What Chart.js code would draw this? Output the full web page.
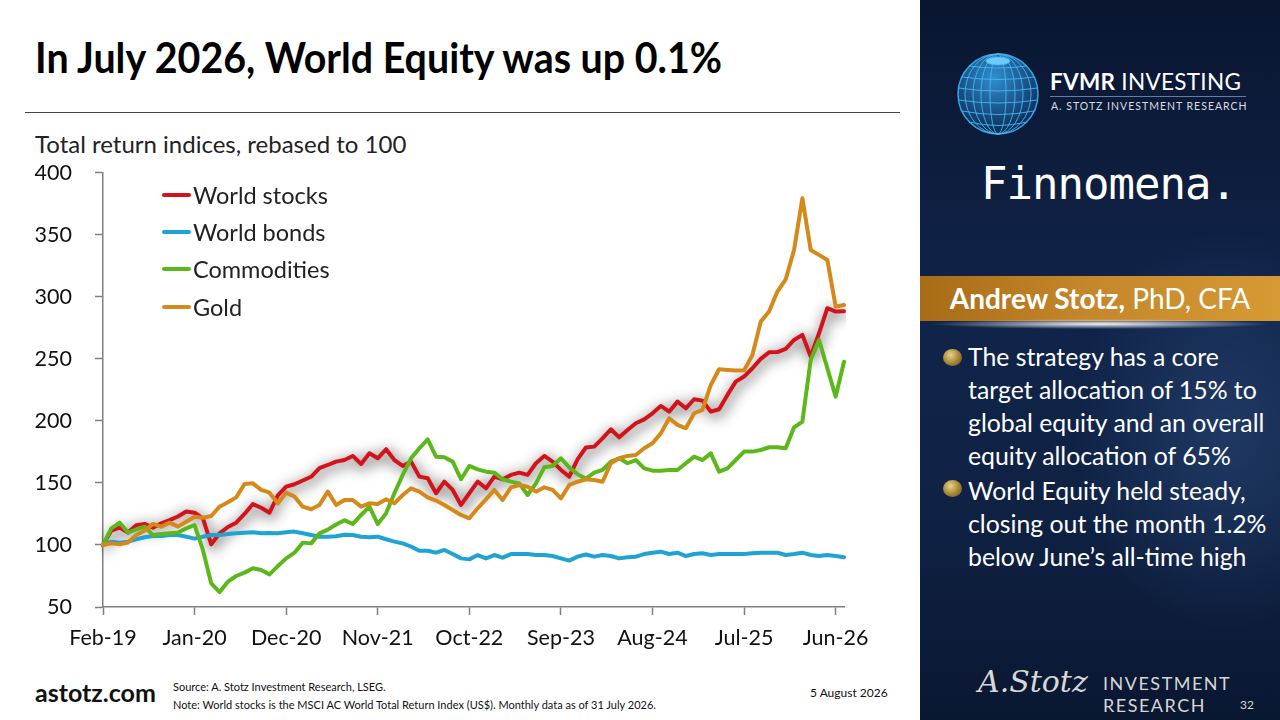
<!DOCTYPE html>
<html>
<head>
<meta charset="utf-8">
<script src="https://cdn.jsdelivr.net/npm/chart.js@4.4.1/dist/chart.umd.min.js"></script>
<style>
  html, body { margin: 0; padding: 0; }
  body { width: 1280px; height: 720px; position: relative; overflow: hidden; background: #fff; font-family: Lato, "Open Sans", sans-serif; }
  .abs { position: absolute; white-space: nowrap; }
  #title { left: 35px; top: 32px; font-size: 42px; font-weight: 700; color: #000; transform-origin: 0 0; line-height: 50px; }
  #rule { left: 25px; top: 112px; width: 875px; height: 1px; background: #444; }
  #ytitle { left: 35px; top: 129px; font-size: 24px; color: #222; }
  #chartBox { left: 0; top: 137px; width: 900px; height: 523px; }
  #legend { left: 162px; top: 176px; font-size: 23.5px; color: #222; }
  #legend div { height: 37.3px; display: flex; align-items: center; }
  #legend span.ln { display: inline-block; width: 29px; height: 4px; margin-right: 2px; border-radius: 2px; }
  #panel { left: 920px; top: 0; width: 360px; height: 720px;
    background: radial-gradient(ellipse 60% 40% at 85% 60%, rgba(45,75,125,0.55), rgba(0,0,0,0) 70%),
                linear-gradient(180deg, #0a1630 0%, #10244a 45%, #0f2244 70%, #0a1731 100%); }
  #banner { left: 920px; top: 276px; width: 360px; height: 45px;
    background: linear-gradient(90deg, #a86c17 0%, #c4862a 45%, #d69a34 100%);
    color: #fff; font-size: 28px; text-align: center; line-height: 45px; }
  #glow { left: 930px; top: 319px; width: 340px; height: 10px;
    background: radial-gradient(ellipse 50% 50% at 50% 50%, rgba(255,255,255,0.95), rgba(255,255,255,0) 100%); }
  .bullet { left: 968px; color: #fff; font-size: 24.8px; line-height: 33px; }
  .dot { width: 19px; height: 17px; border-radius: 50%;
    background: radial-gradient(circle at 40% 35%, #e9d38c 0%, #b1913f 45%, #5d4a1c 100%); }
  #fvmr { left: 1050px; top: 68px; color: #fff; font-size: 22.5px; letter-spacing: 0.3px; }
  #fvmrLine { left: 1050px; top: 96px; width: 196px; height: 1px; background: #5d7fa8; }
  #fvmrSub { left: 1051px; top: 100px; color: #d8dde6; font-size: 10.5px; letter-spacing: 1.0px; }
  #finn { left: 981px; top: 158px; color: #fff; font-size: 44px; font-family: "DejaVu Sans Mono", monospace; letter-spacing: -1px; }
  #sig { left: 978px; top: 664px; color: #d8d8d8; font-size: 30px; font-style: italic; font-family: "DejaVu Serif", serif; }
  #invres { left: 1103px; top: 672px; color: #d6d6d6; font-size: 18px; line-height: 22px; letter-spacing: 1.5px; }
  #page { left: 1240px; top: 697px; color: #d6d6d6; font-size: 12px; }
  #site { left: 35px; top: 677px; font-size: 25px; font-weight: 700; color: #111; }
  #src { left: 173px; top: 678px; font-size: 11px; color: #111; line-height: 18px; }
  #date { left: 810px; top: 685px; font-size: 12px; color: #111; }
</style>
</head>
<body>
<div class="abs" id="title">In July 2026, World Equity was up 0.1%</div>
<div class="abs" id="rule"></div>
<div class="abs" id="ytitle">Total return indices, rebased to 100</div>
<div class="abs" id="chartBox"><canvas id="myChart"></canvas></div>
<div class="abs" id="legend"></div>

<div class="abs" id="panel"></div>
<svg class="abs" style="left:956px;top:52px" width="84" height="84" viewBox="-42 -42 84 84">
  <defs>
    <radialGradient id="gl" cx="45%" cy="30%" r="70%">
      <stop offset="0%" stop-color="#2f8fd0"/>
      <stop offset="100%" stop-color="#0b2a55"/>
    </radialGradient>
  </defs>
  <circle r="40" fill="url(#gl)" stroke="#35a6e8" stroke-width="1.5"/>
  <g fill="none" stroke="#49b4f0" stroke-width="0.9">
    <ellipse rx="8" ry="40"/><ellipse rx="17" ry="40"/><ellipse rx="25" ry="40"/><ellipse rx="33" ry="40"/>
    <ellipse cy="-33" rx="12" ry="4" fill="#6ccaff"/>
    <path d="M-36,-17 Q0,-12 36,-17 M-39.5,-6 Q0,0 39.5,-6 M-39.5,6 Q0,12 39.5,6 M-36,17 Q0,24 36,17 M-29,28 Q0,35 29,28 M-29,-28 Q0,-24 29,-28"/>
  </g>
</svg>
<div class="abs" id="fvmr"><b>FVMR</b> INVESTING</div>
<div class="abs" id="fvmrLine"></div>
<div class="abs" id="fvmrSub">A. STOTZ INVESTMENT RESEARCH</div>
<div class="abs" id="finn">Finnomena.</div>
<div class="abs" id="banner"><b>Andrew Stotz,</b> PhD, CFA</div>
<div class="abs" id="glow"></div>
<div class="abs dot" style="left:943px;top:349px"></div>
<div class="abs bullet" style="top:340px">The strategy has a core<br>target allocation of 15% to<br>global equity and an overall<br>equity allocation of 65%</div>
<div class="abs dot" style="left:943px;top:480px"></div>
<div class="abs bullet" style="top:474px">World Equity held steady,<br>closing out the month 1.2%<br>below June’s all-time high</div>
<div class="abs" id="sig">A.Stotz</div>
<div class="abs" id="invres">INVESTMENT<br>RESEARCH</div>
<div class="abs" id="page">32</div>

<div class="abs" id="site">astotz.com</div>
<div class="abs" id="src">Source: A. Stotz Investment Research, LSEG.<br>Note: World stocks is the MSCI AC World Total Return Index (US$). Monthly data as of 31 July 2026.</div>
<div class="abs" id="date">5 August 2026</div>

<script>
// monthly, Feb-19 .. Jul-26
var monthNames = ["Jan", "Feb", "Mar", "Apr", "May", "Jun", "Jul", "Aug", "Sep", "Oct", "Nov", "Dec"];
var tickLabels = ["Feb-19", "Jan-20", "Dec-20", "Nov-21", "Oct-22", "Sep-23", "Aug-24", "Jul-25", "Jun-26"];
var seriesNames = ["World stocks", "World bonds", "Commodities", "Gold"];
var seriesColors = ["#d4121a", "#1fa3d3", "#5cb71a", "#d4891a"];

var worldStocks = [
  100, 111.6, 114, 110, 116, 117, 114, 117.5, 120, 123,
  127, 126, 121.5, 100.5, 109.4, 114.5, 118, 125, 133, 130,
  126, 140, 147, 149, 152, 155, 162, 164.5, 167.2, 168.5,
  171.8, 165.3, 173.9, 169.9, 177.2, 168.5, 163.7, 167.2, 155.1, 153.8,
  141.7, 151.1, 144.4, 132.3, 141.7, 151.1, 145.7, 155.1, 153, 156.5,
  158.3, 156.5, 165.9, 171.8, 167.2, 160.5, 155.1, 169, 178.6, 179.3,
  186, 193.3, 186.8, 192.7, 198.1, 201.3, 206.2, 212.1, 207.5, 215.6,
  210.2, 217.5, 216.4, 207.5, 209.4, 221, 231.7, 235.8, 242.5, 250,
  255.3, 255.5, 258.2, 265.3, 269.4, 251.9, 270.7, 290.9, 288.2, 288.4
];
var worldBonds = [
  100, 102.7, 101.9, 102.7, 104.6, 106.2, 107.3, 107.3, 108.1, 108.1,
  106.7, 105.1, 106.7, 108.1, 108.1, 108.9, 109.4, 109.9, 110.2, 109.4,
  109.7, 109.4, 110.2, 110.8, 109.4, 108.1, 106.7, 106.7, 107, 108.2,
  108.1, 106.7, 106.2, 106.7, 104.6, 102.7, 101.3, 98.7, 95.4, 95.4,
  93.8, 96, 92.7, 89.2, 88.4, 91.9, 89.2, 91.9, 89.8, 92.7,
  92.7, 92.7, 91.9, 91.9, 91.1, 89.2, 87.4, 90.6, 92.3, 90.6,
  91.9, 91.1, 89.2, 90.1, 90.6, 92.7, 93.8, 94.6, 92.7, 93.8,
  91.1, 92.7, 93.3, 91.9, 92.7, 92.7, 92.7, 92.7, 93.3, 93.8,
  93.8, 93.8, 91.9, 92.7, 93.8, 91.9, 91.1, 91.9, 91.1, 90.1
];
var commodities = [
  100, 113.4, 118, 110, 112.6, 114.8, 108, 108.9, 109.4, 110,
  113.4, 116.1, 96, 69, 62, 70.4, 75, 77.7, 81.2, 79.8,
  76.3, 83, 89.2, 93.8, 101.9, 101.3, 109.4, 112.4, 116.5, 120,
  116.9, 124.2, 130.9, 116.9, 125.5, 141.7, 156.5, 169.9, 178, 185.2,
  171.2, 170.7, 167.2, 153, 163.7, 161, 159.1, 158.3, 153, 151.1,
  149.7, 140.3, 149.7, 162.6, 163.7, 169.9, 162.6, 157, 153.5, 158.3,
  160.5, 167.2, 169.9, 165.9, 168.5, 161.8, 159.9, 159.9, 160.5, 160.5,
  165.9, 171.2, 168.5, 173.9, 159.1, 161.8, 168.5, 175.3, 175.3, 176.6,
  178.8, 178.8, 178, 194.9, 199.5, 249.2, 265.3, 242.5, 219.6, 247.8
];
var gold = [
  100, 101.3, 100.5, 102, 108, 111.6, 117, 114.8, 118, 114.8,
  118.8, 122.8, 122, 123.4, 130.9, 134.4, 138.4, 149.2, 149.7, 144.4,
  142.2, 133.6, 142.2, 139, 130.9, 128.8, 132.3, 143, 132.3, 136.3,
  136.3, 130.9, 133.6, 133.1, 136.8, 133.6, 140.3, 145.7, 143, 138.4,
  135.8, 132.3, 128.2, 124.2, 121.5, 129.6, 136.8, 144.4, 136.3, 146.5,
  148.4, 147, 143, 146.5, 144.4, 137.6, 148.4, 151, 153, 152.4,
  151, 165.9, 169.9, 171.8, 172.6, 178, 182, 190, 202.2, 196.8,
  194.1, 206.2, 208.9, 229, 241.7, 241.1, 240.6, 240.8, 253.2, 280.1,
  288.2, 304.3, 314.2, 337.9, 379.6, 337.9, 333.9, 329.8, 292.2, 293.5
];

var labels = [];
for (var k = 0; k < worldStocks.length; k++) {
  var m = (1 + k) % 12;
  var yr = 19 + Math.floor((1 + k) / 12);
  labels.push(monthNames[m] + "-" + yr);
}
var allSeries = [worldStocks, worldBonds, commodities, gold];

// legend inside the plot, like the slide
var legendBox = document.getElementById("legend");
seriesNames.forEach(function (name, i) {
  var row = document.createElement("div");
  row.innerHTML = '<span class="ln" style="background:' + seriesColors[i] + '"></span>' + name;
  legendBox.appendChild(row);
});

// grey halo behind the world stocks line
var haloPlugin = {
  id: "halo",
  beforeDatasetDraw: function (chart, args) {
    if (args.index !== 0) return;
    var c = chart.ctx;
    c.save();
    c.shadowColor = "rgba(0,0,0,0.85)";
    c.shadowBlur = 14;
    c.shadowOffsetX = 2;
    c.shadowOffsetY = 3;
  },
  afterDatasetDraw: function (chart, args) {
    if (args.index !== 0) return;
    chart.ctx.restore();
  }
};

function fitTitle() {
  var t = document.getElementById("title");
  var w = t.getBoundingClientRect().width;
  t.style.transform = "scaleX(" + (687 / w) + ")";
}

window.onload = function () {
  fitTitle();
  Chart.defaults.font.family = "Lato, 'Open Sans', sans-serif";
  Chart.defaults.color = "#111";
  var ctx = document.getElementById("myChart").getContext("2d");
  var myChart = new Chart(ctx, {
    type: "line",
    data: {
      labels: labels,
      datasets: allSeries.map(function (s, i) {
        return {
          label: seriesNames[i],
          data: s,
          borderColor: seriesColors[i],
          backgroundColor: seriesColors[i],
          borderWidth: 4,
          pointRadius: 0,
          tension: 0,
          borderJoinStyle: "round",
          borderCapStyle: "round",
          order: 4 - i
        };
      })
    },
    plugins: [haloPlugin],
    options: {
      responsive: true,
      maintainAspectRatio: false,
      animation: false,
      layout: { padding: { left: 0, right: 56, top: 10, bottom: 3 } },
      plugins: { legend: { display: false }, tooltip: { enabled: false } },
      scales: {
        x: {
          offset: false,
          border: { color: "#808080", width: 1.5 },
          grid: {
            drawOnChartArea: false,
            tickLength: 8,
            tickWidth: 1.5,
            tickColor: function (c) { return c.index % 11 === 0 ? "#808080" : "rgba(0,0,0,0)"; }
          },
          ticks: {
            autoSkip: false,
            maxRotation: 0,
            padding: 10,
            font: { size: 21.5 },
            callback: function (v, i) { return tickLabels.indexOf(labels[i]) >= 0 ? labels[i] : ""; }
          },
          afterFit: function (s) { s.height = 50; }
        },
        y: {
          min: 50,
          max: 400,
          border: { color: "#808080", width: 1.5 },
          grid: { drawOnChartArea: false, tickLength: 8, tickWidth: 1.5, tickColor: "#808080" },
          ticks: { stepSize: 50, padding: 23, font: { size: 21.5 } },
          afterFit: function (s) { s.width = 103; }
        }
      }
    }
  });
};
</script>
</body>
</html>
